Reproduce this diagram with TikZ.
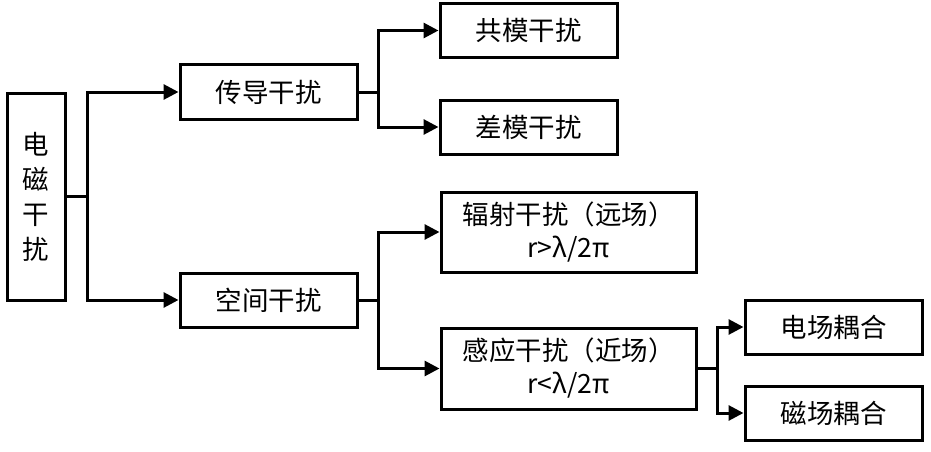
\documentclass[tikz,border=0pt]{standalone}
\usepackage{fontspec}
\setmainfont{Noto Sans CJK SC}
\usetikzlibrary{arrows.meta}

\tikzset{
  box/.style={draw, line width=3pt, inner sep=0pt, align=center,
    minimum width=177pt, minimum height=54pt, font=\fontsize{26.5}{33}\selectfont},
  link/.style={line width=3pt},
  arr/.style={line width=3pt, -{Triangle[length=15pt,width=15pt]}},
}

\begin{document}
\begin{tikzpicture}[x=1pt, y=-1pt]
    \useasboundingbox (0,0) rectangle (931,452);

    \node [box, minimum width=58pt, minimum height=207pt,
      font=\fontsize{26.5}{35}\selectfont] (emi) at (36, 196.5) {电\\磁\\干\\扰};

    \node [box] (cond) at (268.5, 92) {传导干扰};
    \node [box] (space) at (268.5, 300) {空间干扰};

    \node [box] (cm) at (528.5, 30.5) {共模干扰};
    \node [box] (dm) at (528.5, 127) {差模干扰};

    \node [box, minimum width=255pt, minimum height=80pt] (rad) at (568.5, 232)
      {辐射干扰（远场）\\r>λ/2π};
    \node [box, minimum width=255pt, minimum height=81pt] (ind) at (568.5, 368.5)
      {感应干扰（近场）\\r<λ/2π};

    \node [box] (ef) at (833.5, 327) {电场耦合};
    \node [box] (mf) at (833.5, 413) {磁场耦合};

    % level 1
    \draw [link] (emi.east) -- ++(21,0) coordinate (j1);
    \draw [arr] (j1) |- (cond.west);
    \draw [arr] (j1) |- (space.west);

    % level 2
    \draw [link] (cond.east) -- ++(20,0) coordinate (j2);
    \draw [arr] (j2) |- (cm.west);
    \draw [arr] (j2) |- (dm.west);

    \draw [link] (space.east) -- ++(20,0) coordinate (j3);
    \draw [arr] (j3) |- (rad.west);
    \draw [arr] (j3) |- (ind.west);

    % level 3
    \draw [link] (ind.east) -- ++(20,0) coordinate (j4);
    \draw [arr] (j4) |- (ef.west);
    \draw [arr] (j4) |- (mf.west);
\end{tikzpicture}
\end{document}
